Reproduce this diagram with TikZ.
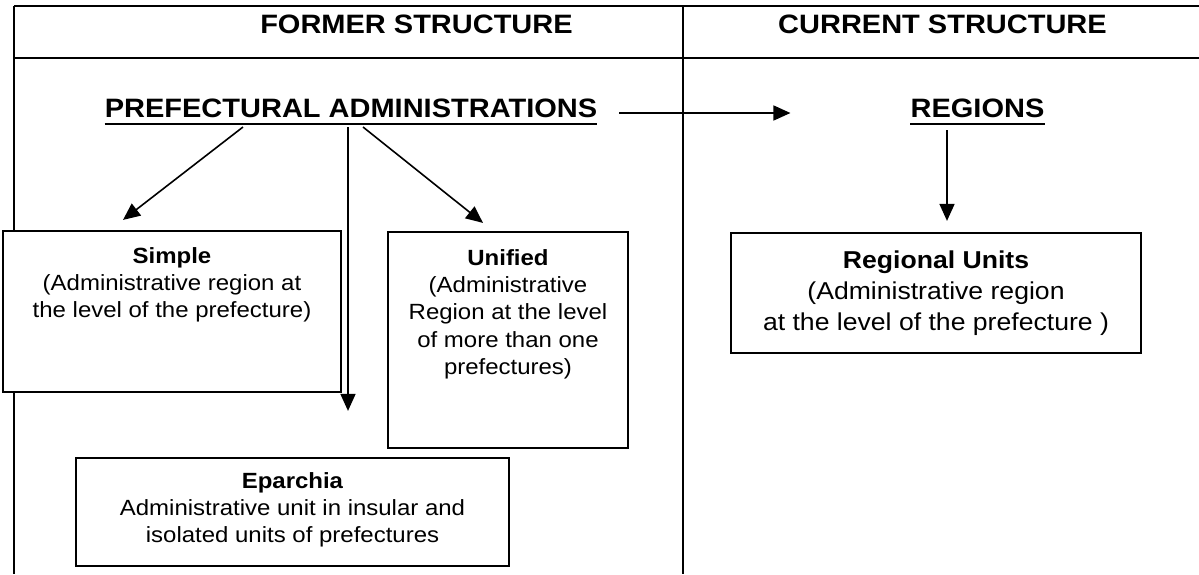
\documentclass[tikz,border=0pt]{standalone}
\usepackage{fontspec}
\setmainfont{Liberation Sans}[FakeStretch=1.09]
\usetikzlibrary{arrows.meta}
\newcommand\hdfont{\fontsize{26.6}{30}\selectfont\bfseries}
\newcommand\bodyfont{\fontsize{22}{27.3}\selectfont}
\newcommand\rufont{\fontsize{24.4}{31}\selectfont}
\tikzset{
  grid/.style={line width=2.8pt},
  box/.style={draw, line width=2.2pt, fill=white, rectangle, inner sep=0pt},
  boxtext/.style={anchor=north, align=center, inner sep=0pt, font=\bodyfont},
  head/.style={anchor=base, inner sep=0pt, font=\hdfont},
  arr/.style={-{Triangle[length=17pt,width=15pt]}, line width=1.6pt},
  uline/.style={line width=2.6pt}
}
\begin{document}
\begin{tikzpicture}[x=1pt,y=-1pt]
\useasboundingbox (0,0) rectangle (1199,574);
% table grid
\draw[grid] (14,6) -- (1199,6);
\draw[grid] (14,58) -- (1199,58);
\draw[grid] (14,6) -- (14,574);
\draw[grid] (683,6) -- (683,574);
% headers
\node[head] (former) at (416.5,33) {FORMER STRUCTURE};
\node[head] (current) at (942.5,33) {CURRENT STRUCTURE};
% titles
\node[head] (pref) at (351,117) {PREFECTURAL ADMINISTRATIONS};
\node[head] (reg) at (977.5,117) {REGIONS};
\draw[uline] ([yshift=-7pt]pref.base west) -- ([yshift=-7pt]pref.base east);
\draw[uline] ([yshift=-7pt]reg.base west) -- ([yshift=-7pt]reg.base east);
% boxes
\node[box, minimum width=338pt, minimum height=161pt] (simple) at (172,311.5) {};
\node[box, minimum width=240pt, minimum height=216pt] (unified) at (508,340) {};
\node[box, minimum width=433pt, minimum height=108pt] (eparchia) at (292.5,512) {};
\node[box, minimum width=410pt, minimum height=120pt] (ru) at (936,293) {};
% box texts
\node[boxtext] (simpleT) at (172,244) {\strut\textbf{Simple}\\(Administrative region at\\the level of the prefecture)};
\node[boxtext] (unifiedT) at (508,246) {\strut\textbf{Unified}\\(Administrative\\Region at the level\\of more than one\\prefectures)};
\node[boxtext] (eparchiaT) at (292.5,469) {\strut\textbf{Eparchia}\\Administrative unit in insular and\\isolated units of prefectures};
\node[boxtext, font=\rufont] (ruT) at (936,246.3) {\strut\textbf{Regional Units}\\(Administrative region\\at the level of the prefecture )};
% connectors
\draw[arr] ([shift={(-108,10)}]pref.base) -- ([shift={(-49,-10)}]simple.north);
\draw[arr] ([shift={(-3,10)}]pref.base) -- ([shift={(55.5,-46)}]eparchia.north);
\draw[arr] ([shift={(12,10)}]pref.base) -- ([shift={(-25,-8)}]unified.north);
\draw[arr] ([shift={(22,-4)}]pref.base east) -- ([shift={(-120,-4)}]reg.base west);
\draw[arr] ([shift={(-30.5,13)}]reg.base) -- ([shift={(11,-11)}]ru.north);
\end{tikzpicture}
\end{document}
